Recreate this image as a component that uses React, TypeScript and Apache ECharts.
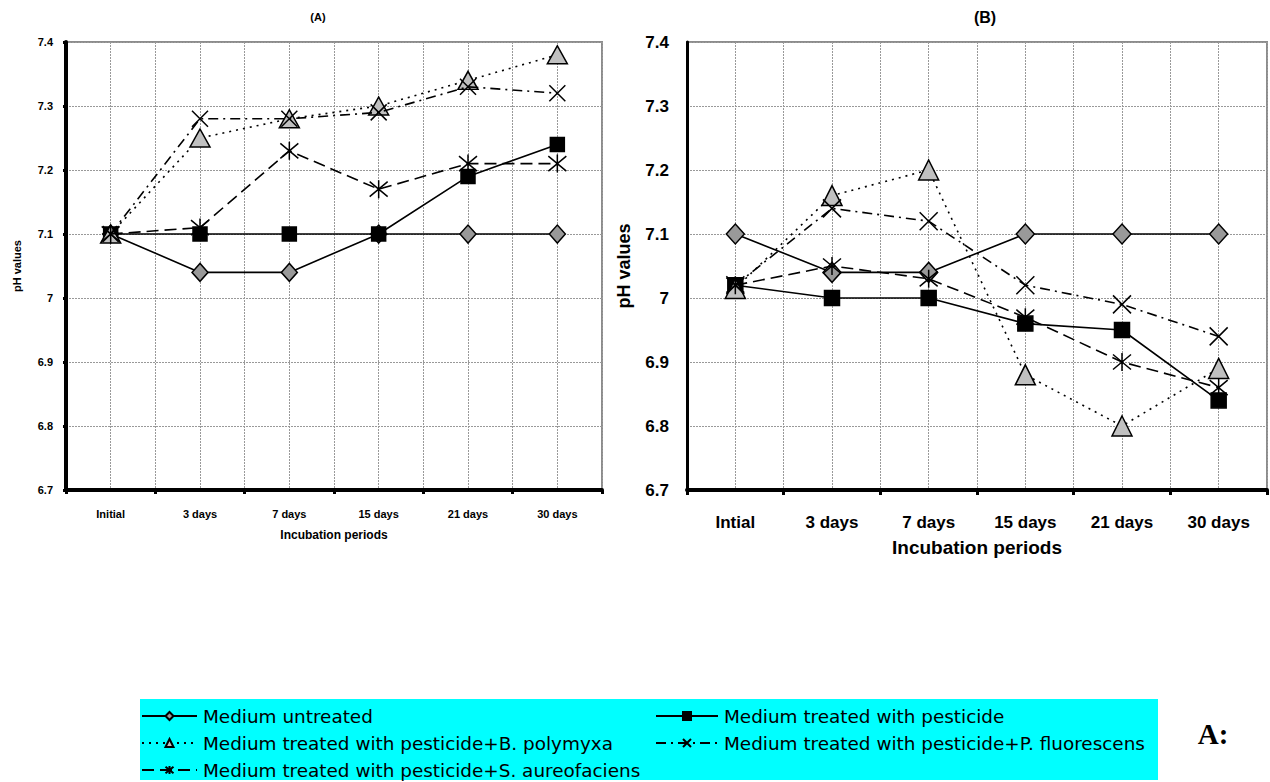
import { useEffect, useRef } from 'react';
import * as echarts from 'echarts';

const categoriesA = ['Initial', '3 days', '7 days', '15 days', '21 days', '30 days'];
const categoriesB = ['Intial', '3 days', '7 days', '15 days', '21 days', '30 days'];

const seriesNames = [
  'Medium untreated',
  'Medium treated with pesticide',
  'Medium treated with pesticide+B. polymyxa',
  'Medium treated with pesticide+P. fluorescens',
  'Medium treated with pesticide+S. aureofaciens',
];

// Panel (A)
const untreatedA = [7.1, 7.04, 7.04, 7.1, 7.1, 7.1];
const pesticideA = [7.1, 7.1, 7.1, 7.1, 7.19, 7.24];
const polymyxaA = [7.1, 7.25, 7.28, 7.3, 7.34, 7.38];
const fluorescensA = [7.1, 7.28, 7.28, 7.29, 7.33, 7.32];
const aureofaciensA = [7.1, 7.11, 7.23, 7.17, 7.21, 7.21];

// Panel (B)
const untreatedB = [7.1, 7.04, 7.04, 7.1, 7.1, 7.1];
const pesticideB = [7.02, 7.0, 7.0, 6.96, 6.95, 6.84];
const polymyxaB = [7.015, 7.16, 7.2, 6.88, 6.8, 6.89];
const fluorescensB = [7.02, 7.14, 7.12, 7.02, 6.99, 6.94];
const aureofaciensB = [7.02, 7.05, 7.03, 6.97, 6.9, 6.86];

const yMin = 6.7;
const yMax = 7.4;
const yStep = 0.1;

const X_PATH = 'path://M0,0L10,10M10,0L0,10';
const STAR_PATH = 'path://M0,0L10,10M10,0L0,10M5,-1L5,11';

const FONT = '"Liberation Sans", Arial, sans-serif';
const LEGEND_FONT = '"DejaVu Sans", sans-serif';

type Style = {
  symbol: string;
  fill: string;
  lineType: any;
  sizeA: any;
  sizeB: any;
};

const styles: Style[] = [
  { symbol: 'diamond', fill: '#999999', lineType: 'solid', sizeA: [16, 18], sizeB: [18, 20] },
  { symbol: 'rect', fill: '#000000', lineType: 'solid', sizeA: 14, sizeB: 15 },
  { symbol: 'triangle', fill: '#c0c0c0', lineType: [2, 5], sizeA: [20, 18], sizeB: [20, 20] },
  { symbol: X_PATH, fill: 'transparent', lineType: [10, 5, 2, 5], sizeA: 16, sizeB: 18 },
  { symbol: STAR_PATH, fill: 'transparent', lineType: [12, 6], sizeA: 18, sizeB: 18 },
];

export default function App() {
  const ref = useRef<HTMLDivElement>(null);

  useEffect(() => {
    if (!ref.current) return;
    const chart = echarts.init(ref.current, undefined, { renderer: 'svg' });

    const dataA = [untreatedA, pesticideA, polymyxaA, fluorescensA, aureofaciensA];
    const dataB = [untreatedB, pesticideB, polymyxaB, fluorescensB, aureofaciensB];

    const mkSeries = (panel: number, data: number[][]) =>
      data.map((d, i) => ({
        type: 'line',
        name: seriesNames[i],
        xAxisIndex: panel,
        yAxisIndex: panel,
        data: d,
        symbol: styles[i].symbol,
        symbolSize: panel === 0 ? styles[i].sizeA : styles[i].sizeB,
        showAllSymbol: true,
        z: 3 + i,
        lineStyle: { color: '#000', width: 1.6, type: styles[i].lineType },
        itemStyle: { color: styles[i].fill, borderColor: '#000', borderWidth: 1.5 },
        emphasis: { disabled: true },
      }));

    const yLabelFmt = (v: number) => String(Number(v.toFixed(1)));

    const mkY = (gridIndex: number, big: boolean) => ({
      type: 'value',
      gridIndex,
      min: yMin,
      max: yMax,
      interval: yStep,
      name: 'pH values',
      nameLocation: 'middle',
      nameGap: big ? 54 : 44,
      nameTextStyle: { fontFamily: FONT, fontWeight: 'bold', fontSize: big ? 18 : 11, color: '#000' },
      axisLine: { show: true, lineStyle: { color: '#000', width: big ? 3 : 4 } },
      axisTick: { show: !big, length: 3, lineStyle: { color: '#000', width: 3 } },
      axisLabel: {
        formatter: yLabelFmt,
        fontFamily: FONT,
        fontWeight: 'bold',
        fontSize: big ? 17 : 11,
        color: '#000',
        margin: big ? 18 : 13,
      },
      splitLine: { show: true, lineStyle: { color: '#999', width: 1, type: [2, 1] } },
    });

    const mkX = (gridIndex: number, cats: string[], big: boolean) => ({
      type: 'category',
      gridIndex,
      data: cats,
      boundaryGap: true,
      name: 'Incubation periods',
      nameLocation: 'middle',
      nameGap: big ? 48 : 39,
      nameTextStyle: { fontFamily: FONT, fontWeight: 'bold', fontSize: big ? 19 : 12, color: '#000' },
      axisLine: { show: true, lineStyle: { color: '#000', width: 4 } },
      axisTick: { show: true, length: big ? 5 : 4, lineStyle: { color: '#000', width: 3 } },
      axisLabel: {
        interval: 0,
        fontFamily: FONT,
        fontWeight: 'bold',
        fontSize: big ? 17 : 11,
        color: '#000',
        margin: big ? 24 : 18,
      },
      splitLine: { show: false },
    });

    const mkVGrid = (gridIndex: number) => ({
      type: 'value',
      gridIndex,
      min: 0,
      max: 12,
      interval: 1,
      position: 'top',
      axisLine: { show: false },
      axisTick: { show: false },
      axisLabel: { show: false },
      splitLine: { show: true, lineStyle: { color: '#999', width: 1, type: [2, 1] } },
    });

    const legendCommon = {
      orient: 'vertical',
      top: 705,
      padding: 0,
      selectedMode: false,
      itemHeight: 10,
      itemGap: 5,
      textStyle: { fontFamily: LEGEND_FONT, fontSize: 18.4, lineHeight: 22, color: '#000', padding: [0, 0, 0, 1] },
    };

    const option: any = {
      animation: false,
      backgroundColor: '#fff',
      grid: [
        { left: 66, top: 42, width: 536, height: 448, show: true, borderColor: '#8c8c8c', borderWidth: 2, backgroundColor: 'transparent' },
        { left: 687, top: 42, width: 580, height: 448, show: true, borderColor: '#8c8c8c', borderWidth: 2, backgroundColor: 'transparent' },
      ],
      xAxis: [mkX(0, categoriesA, false), mkX(1, categoriesB, true), mkVGrid(0), mkVGrid(1)],
      yAxis: [mkY(0, false), mkY(1, true)],
      legend: [
        {
          ...legendCommon,
          left: 141,
          itemWidth: 55,
          data: [seriesNames[0], seriesNames[2], seriesNames[4]],
        },
        {
          ...legendCommon,
          left: 655,
          itemWidth: 62,
          data: [seriesNames[1], seriesNames[3]],
        },
      ],
      graphic: [
        {
          type: 'rect',
          z: -10,
          shape: { x: 140, y: 699, width: 1018, height: 81 },
          style: { fill: '#00ffff' },
        },
        {
          type: 'text',
          x: 1213,
          y: 734,
          style: {
            text: 'A:',
            fill: '#000',
            align: 'center',
            verticalAlign: 'middle',
            font: 'bold 29px "Liberation Serif", serif',
          },
        },
        {
          type: 'text',
          x: 318,
          y: 17,
          style: { text: '(A)', fill: '#000', align: 'center', verticalAlign: 'middle', font: 'bold 11px ' + FONT },
        },
        {
          type: 'text',
          x: 985,
          y: 17,
          style: { text: '(B)', fill: '#000', align: 'center', verticalAlign: 'middle', font: 'bold 16px ' + FONT },
        },
      ],
      series: [...mkSeries(0, dataA), ...mkSeries(1, dataB)],
    };

    chart.setOption(option);
    return () => chart.dispose();
  }, []);

  return (
    <div
      ref={ref}
      style={{ position: 'fixed', left: 0, top: 0, width: 1270, height: 782, background: '#fff' }}
    />
  );
}
